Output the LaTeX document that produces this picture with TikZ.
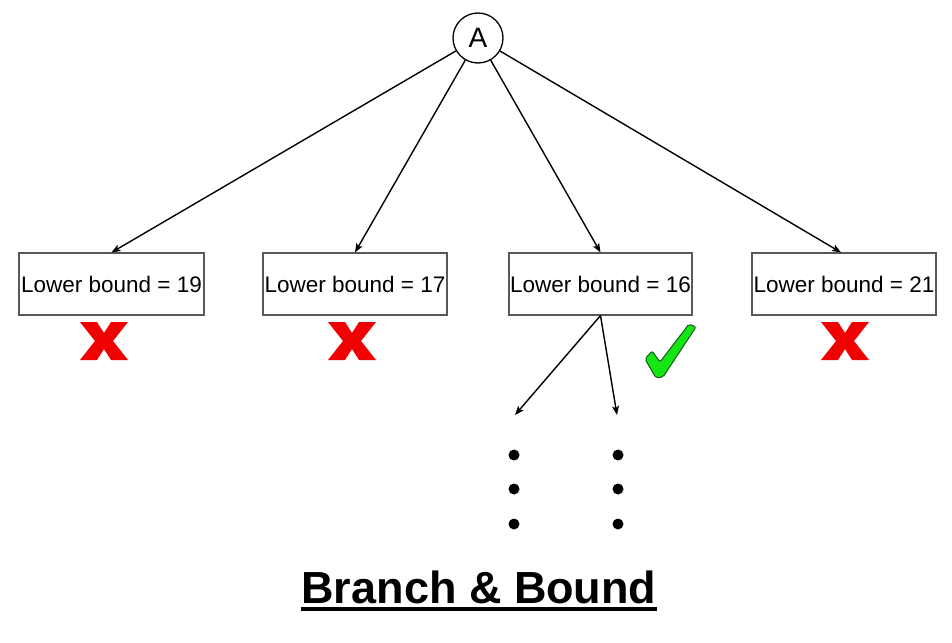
\documentclass[tikz,border=0pt]{standalone}
\usepackage{fontspec}
\setmainfont{Liberation Sans}
\usetikzlibrary{arrows.meta}
\definecolor{checkgreen}{RGB}{20,230,20}
\definecolor{checkdark}{RGB}{20,90,20}
\definecolor{xred}{RGB}{240,0,0}
\tikzset{
  lbbox/.style={draw=black!65, line width=1.1pt, minimum width=184pt, minimum height=62pt, inner sep=0pt, font=\fontsize{22.5}{25}\selectfont},
  rootnode/.style={draw, circle, line width=1.3pt, minimum size=50pt, inner sep=0pt, font=\fontsize{28}{30}\selectfont},
  edge/.style={line width=1.4pt, -{Stealth[length=9pt,width=7pt,inset=2pt]}},
  dotnode/.style={circle, fill=black, minimum size=11pt, inner sep=0pt},
  xmark/.pic={\fill[xred] (-24,-19) -- (-7,-19) -- (0,-8) -- (7,-19) -- (24,-19) -- (9,0) -- (24,19) -- (7,19) -- (0,8) -- (-7,19) -- (-24,19) -- (-9,0) -- cycle;},
}
\begin{document}
\begin{tikzpicture}[x=1pt,y=-1pt]
\useasboundingbox (0,0) rectangle (952,642);
\node[rootnode] (A) at (478,38) {A};
\node[lbbox, minimum width=185pt] (b1) at (111.5,284) {Lower bound = 19};
\node[lbbox] (b2) at (355,284) {Lower bound = 17};
\node[lbbox, minimum width=183pt] (b3) at (600.5,284) {Lower bound = 16};
\node[lbbox] (b4) at (844,284) {Lower bound = 21};
\draw[edge] (A) -- (b1.north);
\draw[edge] (A) -- (b2.north);
\draw[edge] (A) -- (b3.north);
\draw[edge] (A) -- ([xshift=-3pt]b4.north);
\coordinate (c1) at (515,415);
\coordinate (c2) at (617,415);
\draw[edge] (b3.south) -- (c1);
\draw[edge] (b3.south) -- (c2);
\node[dotnode] (d11) at (514,455) {};
\node[dotnode] (d12) at (514,489) {};
\node[dotnode] (d13) at (514,524) {};
\node[dotnode] (d21) at (618,455) {};
\node[dotnode] (d22) at (618,489) {};
\node[dotnode] (d23) at (618,524) {};
\pic at (104,341) {xmark};
\pic at (352,341) {xmark};
\pic at (845,341) {xmark};
\filldraw[fill=checkgreen, draw=checkdark, line width=1pt, rounded corners=2pt]
  (645,359) -- (652,351) -- (660,362) -- (689,324) -- (696,327) -- (663,377) -- (656,378) -- cycle;
\node[font=\bfseries\fontsize{45}{50}\selectfont, inner sep=0pt, anchor=base] (title) at (479,603) {Branch \& Bound};
\draw[line width=3.5pt] ([yshift=-6pt]title.base west) -- ([yshift=-6pt]title.base east);
\end{tikzpicture}
\end{document}
